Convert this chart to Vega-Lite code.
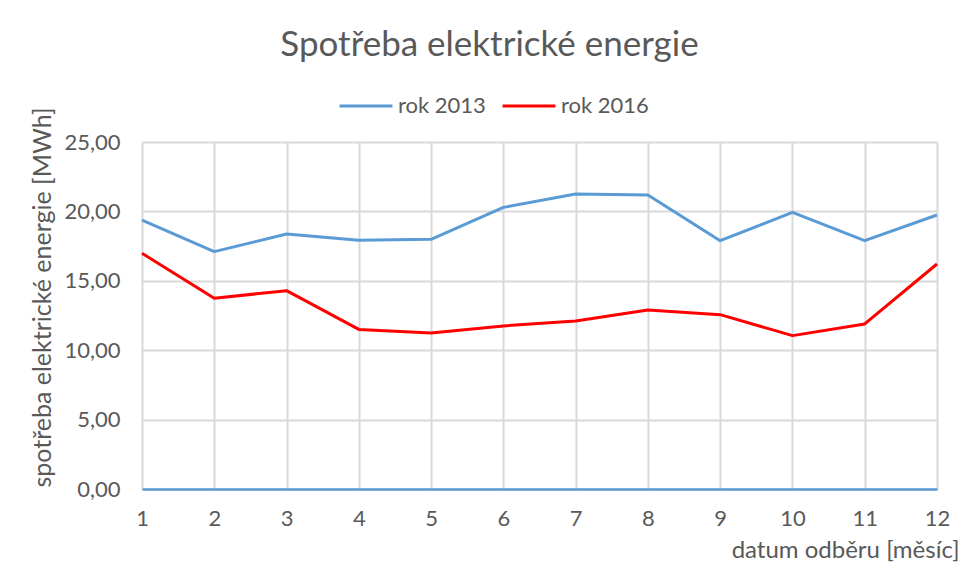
{
  "$schema": "https://vega.github.io/schema/vega-lite/v6.json",
  "width": 795,
  "height": 347,
  "autosize": "none",
  "padding": {"left": 142, "top": 142, "right": 21, "bottom": 95},
  "background": "white",
  "title": {
    "text": "Spotřeba elektrické energie",
    "font": "Lato",
    "fontSize": 35,
    "fontWeight": "normal",
    "color": "#595959",
    "anchor": "middle",
    "frame": "group",
    "dx": -50,
    "offset": 15
  },
  "data": {
    "values": [
      {"mesic": 1, "rada": "rok 2013", "hodnota": 19.38},
      {"mesic": 2, "rada": "rok 2013", "hodnota": 17.10},
      {"mesic": 3, "rada": "rok 2013", "hodnota": 18.37},
      {"mesic": 4, "rada": "rok 2013", "hodnota": 17.92},
      {"mesic": 5, "rada": "rok 2013", "hodnota": 17.99},
      {"mesic": 6, "rada": "rok 2013", "hodnota": 20.29},
      {"mesic": 7, "rada": "rok 2013", "hodnota": 21.25},
      {"mesic": 8, "rada": "rok 2013", "hodnota": 21.18},
      {"mesic": 9, "rada": "rok 2013", "hodnota": 17.89},
      {"mesic": 10, "rada": "rok 2013", "hodnota": 19.93},
      {"mesic": 11, "rada": "rok 2013", "hodnota": 17.89},
      {"mesic": 12, "rada": "rok 2013", "hodnota": 19.74},
      {"mesic": 1, "rada": "rok 2016", "hodnota": 16.98},
      {"mesic": 2, "rada": "rok 2016", "hodnota": 13.74},
      {"mesic": 3, "rada": "rok 2016", "hodnota": 14.29},
      {"mesic": 4, "rada": "rok 2016", "hodnota": 11.50},
      {"mesic": 5, "rada": "rok 2016", "hodnota": 11.24},
      {"mesic": 6, "rada": "rok 2016", "hodnota": 11.75},
      {"mesic": 7, "rada": "rok 2016", "hodnota": 12.10},
      {"mesic": 8, "rada": "rok 2016", "hodnota": 12.90},
      {"mesic": 9, "rada": "rok 2016", "hodnota": 12.56},
      {"mesic": 10, "rada": "rok 2016", "hodnota": 11.05},
      {"mesic": 11, "rada": "rok 2016", "hodnota": 11.89},
      {"mesic": 12, "rada": "rok 2016", "hodnota": 16.21}
    ]
  },
  "mark": {"type": "line", "strokeWidth": 3, "strokeJoin": "round"},
  "encoding": {
    "x": {
      "field": "mesic",
      "type": "quantitative",
      "scale": {"domain": [1, 12], "nice": false, "zero": false},
      "axis": {
        "values": [1, 2, 3, 4, 5, 6, 7, 8, 9, 10, 11, 12],
        "title": "datum odběru [měsíc]",
        "titleFont": "Lato",
        "titleFontSize": 24,
        "titleFontWeight": "normal",
        "titleColor": "#595959",
        "titleAlign": "right",
        "titleBaseline": "alphabetic",
        "titleAnchor": "end",
        "titleX": 817,
        "titleY": 68,
        "labelFont": "Lato",
        "labelFontSize": 22,
        "labelColor": "#595959",
        "labelPadding": 19,
        "labelFlush": false,
        "labelOverlap": false,
        "ticks": false,
        "domain": true,
        "domainColor": "#5b9bd5",
        "domainWidth": 2.5,
        "grid": true,
        "gridColor": "#d9d9d9",
        "gridWidth": 2
      }
    },
    "y": {
      "field": "hodnota",
      "type": "quantitative",
      "scale": {"domain": [0, 25], "nice": false},
      "axis": {
        "values": [0, 5, 10, 15, 20, 25],
        "labelExpr": "replace(format(datum.value, '.2f'), '.', ',')",
        "title": "spotřeba elektrické energie [MWh]",
        "titleFont": "Lato",
        "titleFontSize": 25,
        "titleFontWeight": "normal",
        "titleColor": "#595959",
        "titleAngle": -90,
        "titleAlign": "center",
        "titleBaseline": "alphabetic",
        "titleX": -92,
        "titleY": 155,
        "labelFont": "Lato",
        "labelFontSize": 22,
        "labelColor": "#595959",
        "labelPadding": 22,
        "ticks": false,
        "domain": false,
        "grid": true,
        "gridColor": "#d9d9d9",
        "gridWidth": 2
      }
    },
    "color": {
      "field": "rada",
      "type": "nominal",
      "scale": {"domain": ["rok 2013", "rok 2016"], "range": ["#5b9bd5", "#ff0000"]},
      "legend": {
        "title": null,
        "orient": "none",
        "direction": "horizontal",
        "legendX": 196,
        "legendY": -64,
        "symbolType": "stroke",
        "symbolSize": 2800,
        "symbolStrokeWidth": 3,
        "labelFont": "Lato",
        "labelFontSize": 22,
        "labelColor": "#595959",
        "labelOffset": 4,
        "columnPadding": 10
      }
    }
  },
  "config": {
    "view": {"stroke": null}
  }
}
